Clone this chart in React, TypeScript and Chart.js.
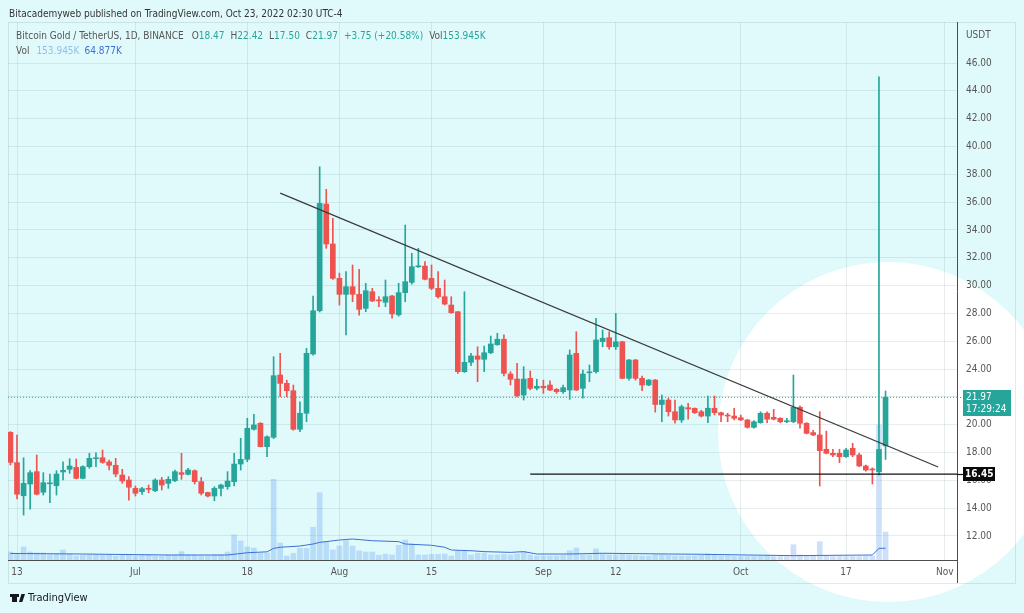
import React, { useEffect, useRef } from 'react';
import { Chart, registerables } from 'chart.js';

Chart.register(...registerables);

// Day index: 0 = Jun 13, 2022 (first candle is Jun 12 = -1, last Oct 23 = 132)
const FIRST_DAY = -1;

const opens = [
  19.45, 17.27, 14.89, 15.73, 16.62, 15.14, 15.75, 15.61, 16.6, 16.79,
  16.93, 16.14, 16.98, 17.55, 17.62, 17.32, 17.08, 16.38, 16.02, 15.42,
  15.18, 15.42, 15.25, 16.02, 15.78, 15.97, 16.55, 16.43, 16.69, 15.9,
  15.12, 14.87, 15.42, 15.54, 15.9, 17.17, 17.51, 19.67, 20.1, 18.42,
  19.09, 23.57, 22.97, 22.44, 19.67, 20.82, 25.08, 28.19, 35.86, 32.99,
  30.52, 29.37, 29.92, 29.37, 28.36, 29.56, 28.95, 28.8, 29.25, 27.9,
  29.49, 30.23, 31.35, 31.4, 30.52, 29.8, 29.2, 28.6, 28.12, 23.81,
  24.48, 24.94, 24.7, 25.17, 25.75, 26.14, 23.64, 23.28, 22.13, 23.33,
  22.62, 22.76, 22.85, 22.54, 22.37, 22.49, 25.13, 22.61, 23.73, 23.81,
  25.97, 26.25, 25.6, 25.96, 23.33, 24.65, 23.33, 22.85, 23.21, 21.45,
  21.77, 20.93, 20.34, 21.22, 21.18, 20.93, 20.62, 21.18, 20.86, 20.69,
  20.62, 20.5, 20.34, 19.81, 20.14, 20.82, 20.53, 20.46, 20.21, 20.21,
  21.25, 20.1, 19.43, 19.26, 18.23, 17.94, 17.94, 17.7, 18.3, 17.82,
  17.03, 16.79, 16.62, 18.47,
];
const highs = [
  19.5, 19.26, 17.62, 16.7, 17.82, 16.55, 16.45, 16.69, 17.32, 17.55,
  17.53, 17.05, 17.94, 17.98, 18.18, 17.46, 17.58, 16.79, 16.26, 15.59,
  15.5, 15.66, 16.11, 16.21, 16.26, 16.74, 17.94, 16.86, 16.75, 16.21,
  15.15, 15.54, 15.72, 16.62, 17.94, 19.02, 20.46, 20.74, 20.15, 19.2,
  24.89, 25.13, 23.2, 22.85, 21.65, 25.49, 29.25, 38.54, 36.92, 34.84,
  30.9, 31.0, 31.48, 31.17, 30.16, 29.8, 29.2, 30.4, 29.3, 30.16,
  34.35, 32.32, 32.68, 31.72, 31.48, 31.0, 30.4, 29.2, 28.15, 29.56,
  25.13, 25.6, 25.65, 26.37, 26.57, 26.45, 23.81, 24.41, 24.17, 23.86,
  23.27, 23.2, 23.16, 22.6, 22.85, 25.37, 26.68, 23.93, 24.29, 27.65,
  26.81, 26.68, 28.0, 26.0, 24.7, 24.7, 23.5, 23.25, 23.25, 22.13,
  21.9, 21.77, 21.41, 21.53, 21.2, 21.04, 22.06, 22.06, 20.9, 20.82,
  21.18, 20.69, 20.38, 20.3, 20.93, 20.93, 21.1, 20.5, 20.46, 23.57,
  21.35, 20.15, 19.6, 20.93, 19.54, 18.23, 18.23, 18.3, 18.66, 17.95,
  17.1, 16.9, 45.0, 22.42,
];
const lows = [
  17.1, 14.66, 13.5, 13.92, 14.95, 14.94, 14.39, 14.94, 16.02, 16.5,
  16.1, 16.1, 16.86, 16.98, 17.22, 16.74, 16.26, 15.78, 14.58, 14.87,
  14.98, 15.1, 15.18, 15.3, 15.42, 15.9, 16.07, 16.38, 15.73, 14.94,
  14.8, 14.53, 14.87, 15.35, 15.59, 16.74, 17.34, 19.6, 18.4, 17.7,
  19.0, 22.01, 22.01, 19.6, 19.5, 20.21, 25.0, 28.1, 32.68, 30.45,
  28.6, 26.45, 28.84, 27.88, 28.12, 28.85, 28.48, 28.48, 27.65, 27.8,
  28.84, 30.1, 31.3, 30.4, 29.7, 29.1, 28.6, 28.0, 23.69, 23.75,
  24.24, 23.09, 23.81, 25.1, 25.7, 23.5, 22.85, 22.0, 21.77, 22.5,
  22.5, 22.25, 22.45, 22.25, 22.25, 21.82, 22.45, 21.9, 23.09, 23.7,
  25.6, 25.42, 25.4, 23.3, 23.2, 23.2, 22.44, 22.8, 20.9, 20.21,
  20.62, 20.1, 20.16, 20.39, 20.8, 20.55, 20.14, 20.7, 20.21, 20.21,
  20.34, 20.3, 19.75, 19.75, 20.1, 20.14, 20.34, 20.14, 20.14, 20.15,
  19.74, 19.33, 19.2, 15.59, 17.9, 17.7, 17.27, 17.65, 17.7, 16.98,
  16.65, 15.73, 16.38, 17.5,
];
const closes = [
  17.29, 15.0, 15.78, 16.55, 15.0, 15.83, 15.8, 16.45, 16.72, 17.03,
  16.14, 16.98, 17.58, 17.62, 17.29, 17.08, 16.45, 15.95, 15.5, 15.07,
  15.4, 15.35, 16.02, 15.66, 16.07, 16.62, 16.43, 16.74, 15.9, 15.07,
  14.87, 15.42, 15.66, 15.95, 17.17, 17.51, 19.74, 19.98, 18.42, 19.13,
  23.52, 22.97, 22.44, 19.67, 20.82, 25.13, 28.19, 35.91, 32.99, 30.52,
  29.37, 29.92, 29.37, 28.29, 29.63, 28.89, 28.9, 29.2, 27.96, 29.49,
  30.28, 31.36, 31.42, 30.45, 29.8, 29.2, 28.67, 28.05, 23.81, 24.48,
  24.94, 24.7, 25.17, 25.8, 26.14, 23.69, 23.26, 22.08, 23.28, 22.61,
  22.76, 22.65, 22.49, 22.37, 22.66, 25.01, 22.49, 23.64, 23.8, 26.09,
  26.21, 25.6, 25.96, 23.33, 24.65, 23.33, 22.85, 23.21, 21.45, 21.77,
  20.93, 20.34, 21.29, 21.13, 20.86, 20.62, 21.18, 20.86, 20.69, 20.62,
  20.46, 20.34, 19.81, 20.21, 20.82, 20.39, 20.39, 20.21, 20.26, 21.25,
  20.1, 19.38, 19.26, 18.13, 17.94, 17.82, 17.7, 18.18, 17.82, 17.03,
  16.74, 16.74, 18.22, 21.97,
];
// volume in thousands
const volumes = [
  44, 37, 72, 44, 39, 39, 29, 33, 55, 33,
  22, 25, 28, 28, 25, 28, 22, 25, 28, 22,
  25, 28, 22, 22, 28, 28, 46, 28, 28, 22,
  22, 28, 28, 44, 138, 105, 72, 66, 39, 39,
  444, 94, 22, 37, 64, 64, 180, 370, 101, 55,
  77, 106, 77, 50, 44, 44, 26, 33, 28, 81,
  110, 88, 28, 28, 31, 31, 33, 22, 50, 50,
  28, 37, 37, 28, 28, 31, 28, 33, 47, 28,
  22, 22, 22, 22, 25, 51, 66, 28, 28, 61,
  33, 28, 28, 33, 28, 25, 22, 22, 28, 28,
  25, 22, 22, 22, 22, 25, 33, 25, 22, 22,
  19, 19, 19, 19, 19, 22, 19, 19, 19, 84,
  28, 22, 22, 101, 22, 19, 19, 19, 19, 19,
  22, 22, 742, 153.945,
];
// volume moving average (thousands), read at these days
const maDays = [-1, 10, 23, 32, 35, 38, 39, 40, 43, 45, 46, 49, 51, 54, 58, 59, 63, 65, 66, 69, 71, 75, 77, 79, 84, 89, 99, 104, 111, 118, 130, 131, 132];
const maValues = [36, 33, 27.5, 27.5, 40, 45, 64, 70, 77, 88, 97, 110, 115.5, 106, 101, 88, 81, 70, 55, 51, 46, 42, 46, 33, 33, 37, 33, 31.5, 27.5, 24, 27.5, 64, 64.877];

const xTickDays = [0, 18, 35, 49, 63, 80, 91, 110, 126, 141];
const xTickLabels = ['13', 'Jul', '18', 'Aug', '15', 'Sep', '12', 'Oct', '17', 'Nov'];

const trendDays = [40, 140];
const trendPrices = [36.65, 16.96];
const supportLevel = 16.45;
const supportStartDay = 78;
const lastPrice = 21.97;
const countdown = '17:29:24';

const X_MIN = -1.368;
const X_MAX = 142.86;
const Y_MIN = 10.27;
const Y_MAX = 48.95;
const VOL_MAX = 2959;

const BG = '#e0fafc';
const UP = '#26a69a';
const DOWN = '#ef5350';
const GRID = 'rgba(40,90,100,0.11)';
const FONT = '"DejaVu Sans Condensed", "DejaVu Sans", sans-serif';
const FS = 10;

const days = opens.map((_, i) => FIRST_DAY + i);
const candleColors = opens.map((o, i) => (closes[i] >= o ? UP : DOWN));

const decorPlugin = {
  id: 'decor',
  beforeDraw(chart: any) {
    const ctx = chart.ctx;
    ctx.save();
    ctx.fillStyle = BG;
    ctx.fillRect(0, 0, chart.width, chart.height);
    ctx.fillStyle = '#ffffff';
    ctx.beginPath();
    ctx.arc(888, 432, 170, 0, Math.PI * 2);
    ctx.fill();
    ctx.strokeStyle = 'rgba(0,0,0,0.09)';
    ctx.lineWidth = 1;
    ctx.strokeRect(8.5, 22.5, 1007, 561);
    ctx.restore();
  },
  afterDraw(chart: any) {
    const ctx = chart.ctx;
    const yS = chart.scales.y;
    const area = chart.chartArea;
    ctx.save();
    ctx.strokeStyle = '#4d4d4d';
    ctx.lineWidth = 1;
    ctx.beginPath();
    ctx.moveTo(area.right + 0.5, area.bottom);
    ctx.lineTo(area.right + 0.5, 583);
    ctx.stroke();

    const yl = Math.round(yS.getPixelForValue(lastPrice));
    ctx.strokeStyle = UP;
    ctx.setLineDash([1, 2]);
    ctx.beginPath();
    ctx.moveTo(area.right, yl + 0.5);
    ctx.lineTo(963, yl + 0.5);
    ctx.stroke();
    ctx.setLineDash([]);
    ctx.fillStyle = UP;
    ctx.fillRect(963, yl - 7, 48, 26);
    ctx.fillStyle = '#ffffff';
    ctx.font = FS + 'px ' + FONT;
    ctx.textAlign = 'left';
    ctx.textBaseline = 'middle';
    ctx.fillText(lastPrice.toFixed(2), 966, yl);
    ctx.fillText(countdown, 966, yl + 12);

    const ys = Math.round(yS.getPixelForValue(supportLevel));
    ctx.strokeStyle = '#111111';
    ctx.lineWidth = 1.2;
    ctx.beginPath();
    ctx.moveTo(area.right, ys + 0.5);
    ctx.lineTo(963, ys + 0.5);
    ctx.stroke();
    ctx.fillStyle = '#0a0a0a';
    ctx.fillRect(963, ys - 7, 32, 14);
    ctx.fillStyle = '#ffffff';
    ctx.font = 'bold ' + FS + 'px ' + FONT;
    ctx.fillText(supportLevel.toFixed(2), 965, ys + 0.5);
    ctx.restore();
  },
};

export default function App() {
  const ref = useRef<HTMLCanvasElement>(null);

  useEffect(() => {
    const canvas = ref.current;
    if (!canvas) return;
    const chart = new Chart(canvas, {
      type: 'bar',
      data: {
        datasets: [
          {
            type: 'line',
            label: 'Trend',
            data: trendDays.map((d, i) => ({ x: d, y: trendPrices[i] })),
            borderColor: '#3a3a3a',
            borderWidth: 1.2,
            pointRadius: 0,
            yAxisID: 'y',
            order: 0,
          },
          {
            type: 'line',
            label: 'Support',
            data: [
              { x: supportStartDay, y: supportLevel },
              { x: X_MAX, y: supportLevel },
            ],
            borderColor: '#111111',
            borderWidth: 1.2,
            pointRadius: 0,
            yAxisID: 'y',
            order: 0,
          },
          {
            type: 'line',
            label: 'Last',
            data: [
              { x: X_MIN, y: lastPrice },
              { x: X_MAX, y: lastPrice },
            ],
            borderColor: UP,
            borderWidth: 1,
            borderDash: [1, 2],
            pointRadius: 0,
            yAxisID: 'y',
            order: 0,
          },
          {
            type: 'bar',
            label: 'Body',
            data: days.map((d, i) => ({ x: d, y: [opens[i], closes[i]] })) as any,
            backgroundColor: candleColors,
            barThickness: 5,
            minBarLength: 1,
            grouped: false,
            yAxisID: 'y',
            order: 1,
          },
          {
            type: 'bar',
            label: 'Wick',
            data: days.map((d, i) => ({ x: d, y: [lows[i], highs[i]] })) as any,
            backgroundColor: candleColors,
            barThickness: 1,
            grouped: false,
            yAxisID: 'y',
            order: 2,
          },
          {
            type: 'line',
            label: 'Vol MA',
            data: maDays.map((d, i) => ({ x: d, y: maValues[i] })),
            borderColor: '#3d6fd6',
            borderWidth: 1,
            pointRadius: 0,
            yAxisID: 'yv',
            order: 3,
          },
          {
            type: 'bar',
            label: 'Vol',
            data: days.map((d, i) => ({ x: d, y: volumes[i] })) as any,
            backgroundColor: 'rgba(115,170,240,0.36)',
            barThickness: 5,
            grouped: false,
            yAxisID: 'yv',
            order: 4,
          },
        ] as any,
      },
      options: {
        animation: false,
        responsive: false,
        devicePixelRatio: 1,
        events: [],
        layout: { padding: { left: 8, top: 22, right: 0, bottom: 30 } },
        plugins: {
          legend: { display: false },
          tooltip: { enabled: false },
          title: { display: false },
        },
        scales: {
          x: {
            type: 'linear',
            min: X_MIN,
            max: X_MAX,
            offset: false,
            grid: { color: GRID, drawTicks: false, offset: false },
            border: { display: true, color: '#4d4d4d', width: 1 },
            afterBuildTicks: (s: any) => {
              s.ticks = xTickDays.map((v) => ({ value: v }));
            },
            afterFit: (s: any) => {
              s.height = 23;
            },
            ticks: {
              autoSkip: false,
              maxRotation: 0,
              padding: 6,
              color: '#555555',
              font: { family: FONT, size: FS },
              callback: (v: any) => {
                const idx = xTickDays.indexOf(Number(v));
                return idx >= 0 ? xTickLabels[idx] : '';
              },
            },
          },
          y: {
            type: 'linear',
            position: 'right',
            min: Y_MIN,
            max: Y_MAX,
            grid: {
              drawTicks: false,
              color: (c: any) => (c.tick && c.tick.value === 48 ? 'rgba(0,0,0,0)' : GRID),
            },
            border: { display: true, color: '#4d4d4d', width: 1 },
            afterFit: (s: any) => {
              s.width = 67;
            },
            ticks: {
              stepSize: 2,
              includeBounds: false,
              padding: 9,
              color: '#555555',
              font: { family: FONT, size: FS },
              callback: (v: any) => (Number(v) === 48 ? 'USDT' : Number(v).toFixed(2)),
            },
          },
          yv: {
            type: 'linear',
            display: false,
            min: 0,
            max: VOL_MAX,
          },
        },
      } as any,
      plugins: [decorPlugin],
    });
    return () => chart.destroy();
  }, []);

  const lab = { color: '#555555' };
  const val = { color: UP };
  const gap = 6;
  return (
    <div
      style={{
        position: 'fixed',
        left: 0,
        top: 0,
        width: 1024,
        height: 613,
        overflow: 'hidden',
        background: BG,
        fontFamily: FONT,
      }}
    >
      <canvas
        ref={ref}
        width={1024}
        height={613}
        style={{ position: 'absolute', left: 0, top: 0, width: 1024, height: 613 }}
      />
      <div style={{ position: 'absolute', left: 9, top: 7, fontSize: FS, lineHeight: '13px', color: '#333333', whiteSpace: 'nowrap' }}>
        Bitacademyweb published on TradingView.com, Oct 23, 2022 02:30 UTC-4
      </div>
      <div style={{ position: 'absolute', left: 16, top: 29, fontSize: FS, lineHeight: '13px', whiteSpace: 'nowrap' }}>
        <span style={lab}>Bitcoin Gold / TetherUS, 1D, BINANCE</span>
        <span style={{ ...lab, marginLeft: gap + 2 }}>O</span><span style={val}>18.47</span>
        <span style={{ ...lab, marginLeft: gap }}>H</span><span style={val}>22.42</span>
        <span style={{ ...lab, marginLeft: gap }}>L</span><span style={val}>17.50</span>
        <span style={{ ...lab, marginLeft: gap }}>C</span><span style={val}>21.97</span>
        <span style={{ ...val, marginLeft: gap }}>+3.75 (+20.58%)</span>
        <span style={{ ...lab, marginLeft: gap }}>Vol</span><span style={val}>153.945K</span>
      </div>
      <div style={{ position: 'absolute', left: 16, top: 44, fontSize: FS, lineHeight: '13px', whiteSpace: 'nowrap' }}>
        <span style={lab}>Vol</span>
        <span style={{ color: '#93bfe9', marginLeft: 7 }}>153.945K</span>
        <span style={{ color: '#3d6fd6', marginLeft: 5 }}>64.877K</span>
      </div>
      <div style={{ position: 'absolute', left: 12, top: 594, width: 5, height: 8, background: '#131722' }} />
      <div style={{ position: 'absolute', left: 10, top: 594, width: 9, height: 3, background: '#131722' }} />
      <div style={{ position: 'absolute', left: 19, top: 594, width: 6, height: 8, background: '#131722', clipPath: 'polygon(40% 0, 100% 0, 55% 100%, 0 100%)' }} />
      <div style={{ position: 'absolute', left: 28, top: 591, fontSize: 11, lineHeight: '14px', color: '#131722', whiteSpace: 'nowrap' }}>
        TradingView
      </div>
    </div>
  );
}
